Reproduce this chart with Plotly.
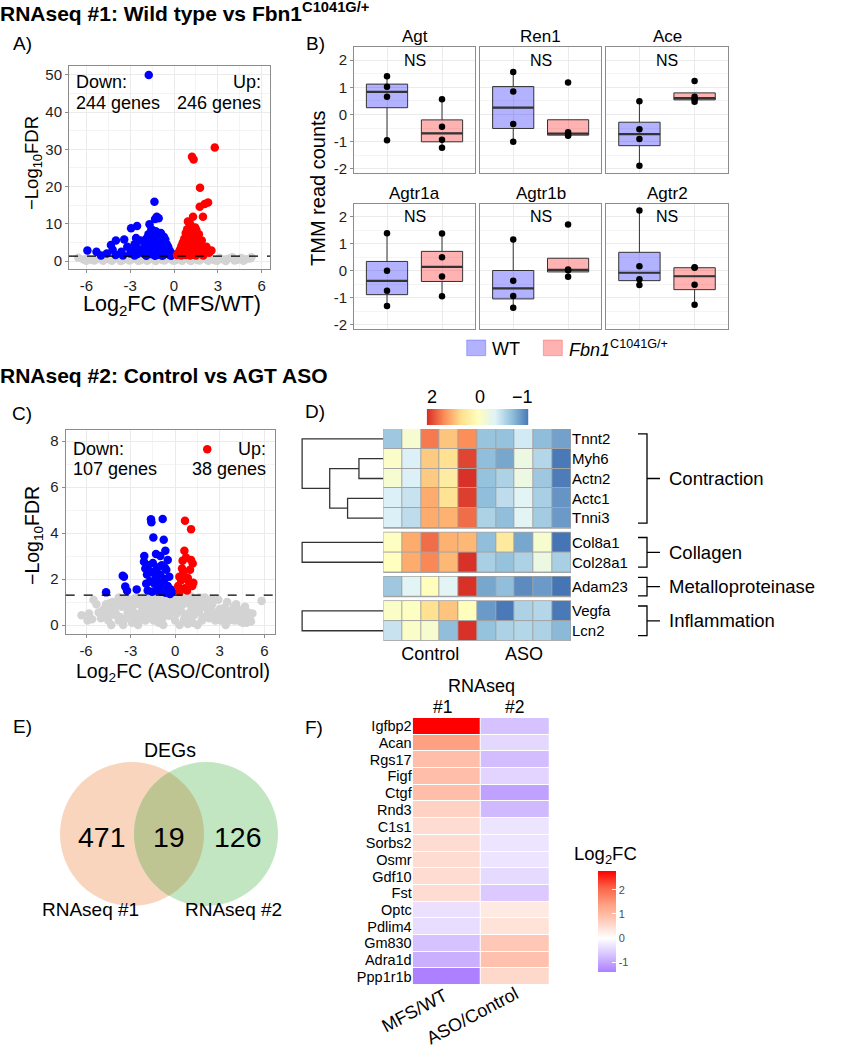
import numpy as np
import plotly.graph_objects as go

W, H = 844, 1050
FONT = "Liberation Sans, Arial, sans-serif"


def fx(p):
    return p / W


def fy(p):
    return 1 - p / H


# ======================= DATA =======================
# ---- Panel A : volcano RNAseq #1 (MFS/WT)
a_grey_fc = [-6.55, -6.2, -5.9, -5.6, -5.3, -5.0, -4.7, -4.4, -4.1, -3.8, -3.5, -3.2, -2.9, -2.6, -2.3, -2.0,
             -1.7, -1.4, -1.1, -0.8, -0.5, -0.2, 0.1, 0.4, 0.7, 1.0, 1.3, 1.6, 1.9, 2.2, 2.5, 2.8, 3.1, 3.4,
             3.7, 4.0, 4.3, 4.6, 4.9, 5.2,
             -6.0, -5.45, -4.85, -4.25, -3.65, -3.05, -2.45, -1.85, -1.25, -0.65, -0.05, 0.55, 1.15, 1.75,
             2.35, 2.95, 3.55, 4.15, 4.75, 5.3]
a_grey_fdr = [0.9, 0.4, 0.7, 0.3, 0.8, 0.5, 0.9, 0.4, 0.6, 1.0, 0.3, 0.7, 0.5, 0.9, 0.2, 0.8, 0.4, 1.0, 0.6,
              0.3, 0.9, 0.5, 0.2, 0.7, 1.1, 0.4, 0.8, 0.3, 0.9, 0.5, 0.7, 0.2, 0.9, 0.4, 0.6, 1.0, 0.3, 0.8,
              0.5, 0.7,
              0.1, 0.15, 0.05, 0.1, 0.0, 0.15, 0.05, 0.1, 0.0, 0.12, 0.05, 0.1, 0.0, 0.15, 0.05, 0.1, 0.0,
              0.12, 0.05, 1.0]
a_down_fc = [-1.73, -1.34, -1.18, -1.3, -1.05, -2.53, -2.94, -1.68, -1.55, -1.25,
             -0.9, -1.45, -0.7, -1.1, -1.9, -2.3, -3.41, -3.98, -4.32, -4.2,
             -5.93, -5.31, -3.2, -2.7, -2.0, -1.6, -1.2, -0.8, -0.5, -2.5,
             -1.8, -1.4, -1.0, -0.6, -0.3, -3.6, -2.9, -2.2, -1.7, -1.2,
             -0.9, -0.5, -4.6, -3.0, -2.5, -2.0, -1.5, -1.1, -0.7, -0.3,
             -3.5, -2.7, -1.9, -1.3, -0.8, -0.2, -4.0, -5.0, -1.55, -0.95,
             -1.35, -1.0, -0.6, -1.5, -0.4, -0.15, -2.6, -2.1, -1.75]
a_down_fdr = [50.0, 15.9, 11.9, 11.3, 11.5, 9.4, 8.8, 9.9, 8.5, 8.0,
              7.5, 7.0, 6.5, 6.2, 6.0, 5.5, 5.8, 5.5, 4.3, 3.0,
              2.8, 2.5, 3.8, 4.5, 4.8, 5.0, 4.9, 5.0, 4.5, 3.5,
              3.6, 3.8, 3.9, 3.5, 2.8, 2.5, 2.7, 2.6, 2.5, 2.7,
              2.4, 2.2, 2.0, 2.0, 1.9, 1.8, 1.8, 1.7, 1.7, 1.6,
              1.5, 1.5, 1.4, 1.4, 1.4, 1.4, 1.6, 1.5, 4.2, 3.2,
              6.0, 6.8, 5.8, 6.5, 3.8, 2.0, 6.2, 3.2, 7.2]
a_up_fc = [2.79, 1.23, 1.34, 1.78, 2.33, 2.1, 1.76, 1.98, 1.3, 0.95,
           1.53, 1.64, 2.22, 2.56, 1.1, 1.45, 0.9, 1.2, 0.8, 1.0,
           1.7, 0.7, 1.3, 1.9, 0.6, 1.1, 1.5, 0.5, 0.9, 1.3,
           1.7, 2.0, 0.4, 0.75, 1.2, 1.6, 2.2, 0.3, 0.6, 1.0,
           1.4, 1.8, 2.4, 0.2, 0.5, 0.8, 1.1, 1.5, 2.0, 0.95,
           1.25, 0.65]
a_up_fdr = [30.5, 28.0, 27.3, 19.7, 15.7, 15.3, 14.6, 11.9, 11.9, 10.6,
            8.3, 6.1, 3.8, 2.8, 10.0, 9.0, 8.5, 8.0, 7.5, 7.0,
            7.2, 6.0, 6.2, 5.5, 5.0, 5.0, 4.8, 4.0, 4.2, 4.0,
            3.8, 3.5, 3.0, 3.2, 3.0, 2.8, 2.8, 2.2, 2.3, 2.1,
            2.2, 2.0, 2.2, 1.6, 1.5, 1.6, 1.5, 1.5, 1.5, 5.8,
            9.0, 4.6]
a_counts = ["244 genes", "246 genes"]

# ---- Panel C : volcano RNAseq #2 (ASO/Control)
c_grey_fc = [-6.3, -5.8, -5.5, -5.3, -5.0, -4.8, -4.5, -4.2, -4.0, -3.8, -3.6, -3.3, -3.1, -2.9, -2.7,
             -2.4, -2.2, -2.0, -1.8, -1.5, -1.3, -1.1, -0.9, -0.6, -0.4, -0.2, 0.0, 0.2, 0.4, 0.6,
             0.8, 1.0, 1.2, 1.4, 1.6, 1.8, 2.0, 2.2, 2.5, 2.7, 3.0, 3.2, 3.5, 3.7, 4.0,
             4.2, 4.5, 4.7, 5.0, 5.2, 5.82, -5.9, -4.3, -2.5, -0.8, 1.5, 3.4, 4.8, -3.8, -1.0, 0.9,
             2.9, 4.1, -1.6, 0.3, 2.3, -3.5, -2.0, 0.5, 1.9, 3.9, -4.7,
             -4.6, -4.1, -3.7, -3.2, -2.8, -2.3, -1.9, -1.4, -1.2, -0.7, -0.3, 0.1, 0.7, 1.1, 1.7,
             2.1, 2.6, 3.1, 3.6, 4.4, -4.9, -4.4, -3.9, -3.4, -3.0, -2.6, -2.1, -1.7, -1.2, -0.5,
             0.25, 0.75, 1.3, 1.85, 2.4, 2.8, 3.3, 3.8, 4.3, 4.9,
             -2.75, -2.35, -1.65, -1.35, -0.95, -0.45, -0.15, 0.35, 0.65, 1.05, 1.45, 1.95, 2.45,
             -3.15, -1.05, 0.15, 0.85, -4.35, 3.05, 4.55,
             -5.6, -5.15, -4.65, -4.15, -3.55, -3.25, -2.85, -2.55, -2.15, -1.75, -1.45, -1.15, -0.85,
             -0.55, -0.25, 0.05, 0.45, 0.95, 1.25, 1.65, 2.05, 2.55, 2.95, 3.45, 3.95, 4.65, 5.1,
             -4.0, -2.4, -0.6, 1.0, 2.7, 3.6, -1.9, 0.6, -3.0]
c_grey_fdr = [0.43, 0.5, 1.1, 0.9, 0.3, 0.7, 0.2, 1.0, 0.5, 0.2, 0.8, 1.2, 0.4, 0.1, 0.9,
              0.5, 1.2, 0.2, 0.8, 1.2, 0.5, 0.1, 0.9, 1.25, 0.4, 0.9, 0.2, 1.1, 0.6, 1.25,
              0.3, 0.9, 0.1, 1.1, 0.6, 0.2, 1.2, 0.5, 0.9, 0.2, 0.7, 0.3, 1.0, 0.6, 0.2,
              0.7, 0.4, 0.8, 0.3, 0.5, 1.05, 0.2, 0.0, 0.0, 0.0, 0.0, 0.0, 0.1, 1.2, 0.6, 0.5,
              1.1, 0.9, 0.3, 0.0, 0.3, 0.0, 0.6, 0.9, 0.8, 0.5, 0.5,
              0.35, 0.75, 0.35, 0.55, 0.35, 0.85, 0.4, 0.75, 0.95, 0.45, 0.7, 0.5, 0.4, 0.65, 0.95,
              0.75, 0.5, 0.45, 0.35, 0.15, 0.6, 0.95, 0.85, 0.25, 0.8, 0.25, 0.35, 0.5, 0.3, 0.8,
              0.75, 0.15, 0.45, 0.35, 0.7, 0.55, 0.75, 0.25, 0.4, 0.55,
              1.15, 1.0, 1.05, 1.2, 1.15, 1.1, 1.25, 1.2, 0.95, 1.25, 0.85, 1.0, 1.1,
              0.65, 0.15, 0.75, 0.05, 0.7, 0.2, 0.1,
              0.25, 0.55, 0.9, 0.45, 1.05, 0.85, 0.6, 1.2, 0.65, 1.25, 0.2, 0.95, 0.3,
              0.7, 1.15, 0.95, 1.25, 1.15, 0.55, 1.2, 0.35, 1.1, 0.4, 0.65, 0.8, 0.55, 0.15,
              0.8, 0.2, 0.9, 0.25, 0.45, 0.2, 1.05, 0.25, 1.05]
c_down_fc = [-1.63, -1.6, -0.84, -1.47, -0.77, -0.66, -1.29, -2.08, -2.1, -0.5,
             -2.01, -3.53, -3.45, -3.36, -3.24, -2.59, -4.65, -1.8, -1.5, -1.2,
             -0.9, -0.6, -1.9, -1.6, -1.3, -1.0, -0.7, -0.4, -1.95, -1.7,
             -1.4, -1.1, -0.8, -0.5, -0.3, -1.85, -1.55, -1.25, -0.95, -0.65,
             -0.35, -0.2, -1.0, -0.7, -1.35, -1.05]
c_down_fdr = [4.6, 4.47, 4.61, 3.81, 3.71, 3.23, 3.09, 3.0, 2.75, 2.83,
              2.46, 2.14, 2.1, 1.67, 1.49, 1.55, 1.42, 2.6, 2.7, 2.5,
              2.6, 2.4, 2.2, 2.3, 2.1, 2.2, 2.0, 2.1, 1.8, 1.9,
              1.8, 1.85, 1.75, 1.7, 1.55, 1.5, 1.45, 1.5, 1.45, 1.4,
              1.35, 1.45, 3.0, 2.5, 2.35, 1.6]
c_up_fc = [0.66, 1.07, 0.62, 0.73, 1.07, 1.18, 0.5, 0.46, 1.0, 0.28, 0.85, 1.22, 1.15, 0.2, 0.65,
           0.3, 0.8, 2.16, 0.55, 0.9, 0.4]
c_up_fdr = [4.53, 4.17, 3.23, 2.94, 2.83, 2.68, 2.8, 2.46, 2.4, 2.1, 2.05, 1.84, 1.7, 1.7, 1.6,
            1.45, 1.5, 7.64, 2.25, 1.9, 1.95]
c_counts = ["107 genes", "38 genes"]
fdr_cutoff = 0.05

# ---- Panel B : TMM read counts
b_genes = ["Agt", "Ren1", "Ace", "Agtr1a", "Agtr1b", "Agtr2"]
b_wt = [[1.41, 1.02, 0.65, -0.95], [1.56, 0.85, -0.35, -1.0], [0.49, -0.54, -0.9, -1.88],
        [1.39, 0.0, -0.74, -1.30], [1.16, -0.37, -0.93, -1.36], [2.23, 0.17, -0.31, -0.52]]
b_fbn = [[0.56, -0.45, -0.93, -1.22], [1.18, -0.65, -0.75, -0.78], [1.23, 0.65, 0.56, 0.47],
         [1.38, 0.5, -0.21, -0.94], [1.71, 0.05, 0.02, -0.22], [0.13, 0.11, -0.51, -1.25]]
b_sig = ["NS", "NS", "NS", "NS", "NS", "NS"]
b_ticks = [-2, -1, 0, 1, 2]

# ---- Panel D : heatmap of z-scores
d_genes = ["Tnnt2", "Myh6", "Actn2", "Actc1", "Tnni3", "Col8a1", "Col28a1", "Adam23", "Vegfa", "Lcn2"]
d_groups = ["Contraction", "Collagen", "Metalloproteinase", "Inflammation"]
d_group_sizes = [5, 2, 1, 2]
d_samples = ["Control"] * 5 + ["ASO"] * 5
d_values = [
    [-0.65, 0.0, 1.65, 1.05, 1.5, -0.68, -0.7, -0.4, -0.73, -0.88],
    [0.05, -0.35, 1.0, 0.8, 2.05, -0.72, -0.85, -0.15, -0.55, -1.1],
    [0.0, -0.35, 1.0, 0.55, 2.2, -0.7, -0.58, -0.15, -0.65, -1.08],
    [-0.35, -0.45, 1.25, 0.75, 2.1, -0.72, -0.5, -0.3, -0.6, -0.95],
    [-0.35, -0.5, 1.25, 1.2, 1.75, -0.58, -0.72, -0.3, -0.63, -0.92],
    [0.1, 1.25, 1.75, 1.2, 1.15, -0.72, 0.6, -0.85, 0.0, -1.12],
    [0.12, 1.25, 1.55, 1.15, 2.2, -0.6, -0.7, -0.58, -0.15, -0.6],
    [-0.65, -0.3, 0.15, -0.3, 2.2, -0.85, -0.72, -1.0, -0.92, -1.12],
    [0.05, 0.1, 0.8, 1.05, 0.15, -0.92, -1.1, -0.58, -0.55, -1.1],
    [-0.45, 0.05, 0.0, -0.72, 2.2, -0.7, -0.58, -0.55, -0.58, -0.75],
]
# dendrogram merges: (left member, right member, height); members are gene names or merge ids
d_merges = [("Myh6", "Actn2", 0.30), ("Actc1", "Tnni3", 0.44), (0, 1, 0.66), ("Tnnt2", 2, 1.0),
            ("Col8a1", "Col28a1", 1.0), ("Vegfa", "Lcn2", 1.0)]
d_legend_stops = [2.21, 1.51, 0.82, 0.125, -0.33, -0.72, -1.12]
d_legend_labels = ["2", "0", "\u22121"]

# ---- Panel E : Venn
e_counts = [471, 19, 126]
e_sets = ["RNAseq #1", "RNAseq #2"]

# ---- Panel F : log2FC heatmap
f_genes = ["Igfbp2", "Acan", "Rgs17", "Figf", "Ctgf", "Rnd3", "C1s1", "Sorbs2", "Osmr", "Gdf10",
           "Fst", "Optc", "Pdlim4", "Gm830", "Adra1d", "Ppp1r1b"]
f_contrasts = ["MFS/WT", "ASO/Control"]
f_rnaseq1 = [2.8, 1.4, 0.95, 0.95, 0.95, 0.65, 0.5, 0.5, 0.5, 0.5, 0.5, -0.35, -0.4, -0.7, -0.9, -1.4]
f_rnaseq2 = [-0.7, -0.45, -0.75, -0.5, -1.05, -0.8, -0.3, -0.3, -0.3, -0.42, -0.62, 0.3, 0.42, 0.8,
             0.9, 0.55]
f_ticks = [-1, 0, 1, 2]

# ======================= FIGURE =======================
fig = go.Figure()
annotations = []
shapes = []
layout = {}

GRID = "#ebebeb"
MINOR = "#f4f4f4"
BORDER = "#8c8c8c"
TICKC = "#1e1e1e"


def ann(text, x, y, size, xanchor="center", yanchor="middle", angle=0, color="black", xref="paper",
        yref="paper", raw=False):
    return dict(text=text, x=x if raw else fx(x), y=y if raw else fy(y), xref=xref, yref=yref,
                showarrow=False, font=dict(size=size, family=FONT, color=color),
                xanchor=xanchor, yanchor=yanchor, textangle=angle)


# headings and panel letters
annotations.append(ann("<b>RNAseq #1: Wild type vs Fbn1<sup>C1041G/+</sup></b>", -2, 12, 21, xanchor="left"))
annotations.append(ann("<b>RNAseq #2: Control vs AGT ASO</b>", -2, 376, 21, xanchor="left"))
for lab, x, y in [("A)", 22, 44), ("B)", 315, 44), ("C)", 22, 413), ("D)", 315, 411), ("E)", 22, 726),
                  ("F)", 314, 727)]:
    annotations.append(ann(lab, x, y, 19))


# ---------------- volcano helper ----------------
def volcano(n, xdom, ydom, xr, yr, ymajor, yminor, grey, down, up, counts, xtitle, ytitle_xy, xtitle_y,
            text_y, xtitle_size, ytitle_size):
    xs = "x" if n == 1 else f"x{n}"
    ys = "y" if n == 1 else f"y{n}"
    for (xv, yv), col in [(grey, "#d3d3d3"), (down, "#0000ff"), (up, "#ff0000")]:
        fig.add_trace(go.Scatter(x=xv, y=yv, mode="markers", xaxis=xs, yaxis=ys,
                                 marker=dict(size=8.5, color=col, line=dict(width=0)),
                                 hoverinfo="skip"))
    key = "" if n == 1 else str(n)
    layout["xaxis" + key] = dict(
        domain=[fx(xdom[0]), fx(xdom[1])], range=xr, anchor=ys, automargin=False,
        tickvals=[-6, -3, 0, 3, 6], ticktext=["-6", "-3", "0", "3", "6"],
        showgrid=True, gridcolor=GRID, gridwidth=1,
        minor=dict(tickvals=[-4.5, -1.5, 1.5, 4.5], showgrid=True, gridcolor=MINOR, gridwidth=1, ticks=""),
        zeroline=False, showline=True, linecolor=BORDER, linewidth=1, mirror=True,
        ticks="outside", ticklen=3, tickcolor=BORDER, tickfont=dict(size=15, color=TICKC, family=FONT))
    layout["yaxis" + key] = dict(
        domain=[fy(ydom[1]), fy(ydom[0])], range=yr, anchor=xs, automargin=False,
        tickvals=ymajor, ticktext=[str(v) for v in ymajor],
        showgrid=True, gridcolor=GRID, gridwidth=1,
        minor=dict(tickvals=yminor, showgrid=True, gridcolor=MINOR, gridwidth=1, ticks=""),
        zeroline=False, showline=True, linecolor=BORDER, linewidth=1, mirror=True,
        ticks="outside", ticklen=3, tickcolor=BORDER, tickfont=dict(size=15, color=TICKC, family=FONT))
    cut = -np.log10(fdr_cutoff)
    shapes.append(dict(type="line", xref=f"{xs} domain", yref=ys, x0=0, x1=1, y0=cut, y1=cut,
                       line=dict(color="black", width=1.2, dash="dash"), layer="above"))
    annotations.append(ann("Down:", xdom[0] + 5, text_y[0], 18, xanchor="left"))
    annotations.append(ann(counts[0], xdom[0] + 5, text_y[1], 18, xanchor="left"))
    annotations.append(ann("Up:", xdom[1] - 7, text_y[0], 18, xanchor="right"))
    annotations.append(ann(counts[1], xdom[1] - 7, text_y[1], 18, xanchor="right"))
    annotations.append(ann(xtitle, (xdom[0] + xdom[1]) / 2 + 2, xtitle_y, xtitle_size))
    annotations.append(ann("\u2212Log<sub>10</sub>FDR", ytitle_xy[0], ytitle_xy[1], ytitle_size, angle=-90))


volcano(1, (69, 270), (66, 269), [-7.19, 6.57], [-2.15, 52.4], [0, 10, 20, 30, 40, 50],
        [5, 15, 25, 35, 45], (a_grey_fc, a_grey_fdr), (a_down_fc, a_down_fdr), (a_up_fc, a_up_fdr),
        a_counts, "Log<sub>2</sub>FC (MFS/WT)", (33, 163), 306, (82, 103), 21.5, 18.5)
volcano(8, (65.7, 275.3), (430, 634), [-7.37, 6.74], [-0.39, 8.48], [0, 2, 4, 6, 8], [1, 3, 5, 7],
        (c_grey_fc, c_grey_fdr), (c_down_fc, c_down_fdr), (c_up_fc, c_up_fdr),
        c_counts, "Log<sub>2</sub>FC (ASO/Control)", (33, 536), 672, (449, 469), 19.5, 19.5)

# ---------------- Panel B : box plots ----------------
col_px = [(354, 475), (480.3, 601), (606.3, 727.7)]
row_px = [(47.3, 173.3), (204, 329.3)]
box_fill = ["rgba(0,0,255,0.3)", "rgba(255,0,0,0.3)"]


def box_stats(v):
    v = np.sort(np.asarray(v, dtype=float))
    q1, med, q3 = np.percentile(v, [25, 50, 75])
    iqr = q3 - q1
    lo = v[v >= q1 - 1.5 * iqr].min()
    hi = v[v <= q3 + 1.5 * iqr].max()
    return q1, med, q3, lo, hi


for i, gene in enumerate(b_genes):
    r, c = divmod(i, 3)
    n = i + 2
    xs, ys = f"x{n}", f"y{n}"
    for pos, vals, fill in [(1, b_wt[i], box_fill[0]), (2, b_fbn[i], box_fill[1])]:
        q1, med, q3, lo, hi = box_stats(vals)
        fig.add_trace(go.Box(x=[pos], q1=[q1], median=[med], q3=[q3], lowerfence=[lo], upperfence=[hi],
                             width=0.75, whiskerwidth=0, fillcolor=fill, boxpoints=False,
                             line=dict(color="#333333", width=1), xaxis=xs, yaxis=ys, hoverinfo="skip"))
        fig.add_trace(go.Scatter(x=[pos - 0.375, pos + 0.375], y=[med, med], mode="lines",
                                 line=dict(color="#333333", width=2.2), xaxis=xs, yaxis=ys,
                                 hoverinfo="skip"))
        fig.add_trace(go.Scatter(x=[pos] * len(vals), y=vals, mode="markers",
                                 marker=dict(size=6.5, color="black"), xaxis=xs, yaxis=ys,
                                 hoverinfo="skip"))
    layout[f"xaxis{n}"] = dict(domain=[fx(col_px[c][0]), fx(col_px[c][1])], range=[0.4, 2.6], anchor=ys,
                               automargin=False,
                               tickvals=[1, 2], showticklabels=False, showgrid=True, gridcolor=GRID,
                               zeroline=False, showline=True, mirror=True, linecolor=BORDER, ticks="")
    layout[f"yaxis{n}"] = dict(domain=[fy(row_px[r][1]), fy(row_px[r][0])], range=[-2.16, 2.47], anchor=xs,
                               automargin=False,
                               tickvals=b_ticks, ticktext=[str(t) for t in b_ticks],
                               showticklabels=(c == 0), ticks="outside" if c == 0 else "", ticklen=3,
                               tickcolor=BORDER, tickfont=dict(size=15, color=TICKC, family=FONT),
                               showgrid=True, gridcolor=GRID,
                               minor=dict(tickvals=[-1.5, -0.5, 0.5, 1.5], showgrid=True, gridcolor=MINOR,
                                          ticks=""),
                               zeroline=False, showline=True, mirror=True, linecolor=BORDER)
    annotations.append(ann(gene, (col_px[c][0] + col_px[c][1]) / 2, row_px[r][0] - 11, 17))
    annotations.append(ann(b_sig[i], 1.5, 2.0, 16, xref=xs, yref=ys, raw=True))

annotations.append(ann("TMM read counts", 318, 188, 20, angle=-90))
# legend of panel B
shapes.append(dict(type="rect", xref="paper", yref="paper", x0=fx(466.7), x1=fx(485.7), y0=fy(355.7),
                   y1=fy(340), fillcolor=box_fill[0], line=dict(color="rgba(0,0,255,0.25)", width=1)))
shapes.append(dict(type="rect", xref="paper", yref="paper", x0=fx(543.3), x1=fx(562.3), y0=fy(355.7),
                   y1=fy(340), fillcolor=box_fill[1], line=dict(color="rgba(255,0,0,0.25)", width=1)))
annotations.append(ann("WT", 490.5, 348.5, 18, xanchor="left"))
annotations.append(ann("<i>Fbn1</i><sup>C1041G/+</sup>", 566.5, 348.5, 18, xanchor="left"))

# ---------------- Panel D : heatmap ----------------
d_colors = ["#d73027", "#fc8d59", "#fee090", "#ffffbf", "#e0f3f8", "#91bfdb", "#4575b4"]
d_zmin, d_zmax = min(d_legend_stops), max(d_legend_stops)
d_scale = sorted([[(v - d_zmin) / (d_zmax - d_zmin), col] for v, col in zip(d_legend_stops, d_colors)])
ROW_GAP = 0.23
block_starts = []
s = 0.0
for size in d_group_sizes:
    block_starts.append(s)
    s += size + ROW_GAP
d_total = s - ROW_GAP
row_center = []
for start, size in zip(block_starts, d_group_sizes):
    row_center += [start + 0.5 + k for k in range(size)]

gi = 0
for start, size, grp in zip(block_starts, d_group_sizes, d_groups):
    fig.add_trace(go.Heatmap(z=d_values[gi:gi + size], x0=0, dx=1, y0=start + 0.5, dy=1,
                             zmin=d_zmin, zmax=d_zmax, colorscale=d_scale, showscale=False,
                             xgap=1, ygap=1, xaxis="x9", yaxis="y9", hoverinfo="skip"))
    shapes.append(dict(type="rect", xref="x9", yref="y9", x0=-0.5, x1=9.5, y0=start, y1=start + size,
                       fillcolor="#a3a3a3", line=dict(color="#a3a3a3", width=1.5), layer="below"))
    inset = 0.25 if size > 1 else 0.03
    yt, yb = start + inset, start + size - inset
    ym = start + size / 2
    x0, x1, x2 = fx(638), fx(647), fx(660)
    shapes.append(dict(type="path", xref="paper", yref="y9",
                       path=f"M {x0},{yt} L {x1},{yt} L {x1},{yb} L {x0},{yb} M {x1},{ym} L {x2},{ym}",
                       line=dict(color="black", width=1.3)))
    annotations.append(ann(grp, fx(666.5), ym, 18.5, xanchor="left", xref="paper", yref="y9", raw=True))
    gi += size

ctrl_pos = float(np.mean([k for k, sname in enumerate(d_samples) if sname == "Control"]))
aso_pos = float(np.mean([k for k, sname in enumerate(d_samples) if sname == "ASO"]))
layout["xaxis9"] = dict(domain=[fx(383.3), fx(571)], range=[-0.5, 9.5], anchor="y9", automargin=False,
                        tickvals=[ctrl_pos, aso_pos], ticktext=["Control", "ASO"],
                        tickfont=dict(size=18, color="black", family=FONT), ticks="",
                        showgrid=False, zeroline=False, showline=False)
layout["yaxis9"] = dict(domain=[fy(429 + d_total * 19.8), fy(429)], range=[d_total, 0], anchor="x9",
                        automargin=False,
                        side="right", tickvals=row_center, ticktext=d_genes, ticks="",
                        tickfont=dict(size=15, color="black", family=FONT),
                        showgrid=False, zeroline=False, showline=False)

# dendrogram
gene_y = dict(zip(d_genes, row_center))
nodes = []
dx_, dy_ = [], []
for a, b, h in d_merges:
    pa = (gene_y[a], 0.0) if isinstance(a, str) else nodes[a]
    pb = (gene_y[b], 0.0) if isinstance(b, str) else nodes[b]
    dx_ += [pa[1], h, h, pb[1], None]
    dy_ += [pa[0], pa[0], pb[0], pb[0], None]
    nodes.append(((pa[0] + pb[0]) / 2, h))
fig.add_trace(go.Scatter(x=dx_, y=dy_, mode="lines", line=dict(color="#333333", width=1.3),
                         xaxis="x10", yaxis="y9", hoverinfo="skip"))
layout["xaxis10"] = dict(domain=[fx(300.5), fx(383.3)], range=[1.02, 0], anchor="y9", visible=False,
                         automargin=False)

# colour legend of D
fig.add_trace(go.Heatmap(z=[d_legend_stops], x=list(range(len(d_legend_stops))), y=[0],
                         zmin=d_zmin, zmax=d_zmax, colorscale=d_scale, showscale=False, zsmooth="best",
                         xaxis="x11", yaxis="y11", hoverinfo="skip"))
layout["xaxis11"] = dict(domain=[fx(426.7), fx(528.3)], range=[0, len(d_legend_stops) - 1], anchor="y11",
                         visible=False, automargin=False)
layout["yaxis11"] = dict(domain=[fy(425), fy(409)], range=[-0.5, 0.5], anchor="x11", visible=False,
                         automargin=False)
for lab, x in zip(d_legend_labels, [431.7, 480, 522.3]):
    annotations.append(ann(lab, x, 397, 18))

# ---------------- Panel E : Venn ----------------
cx1, cx2, cyv, rv = 132, 206, 834, 72
shapes.append(dict(type="circle", xref="paper", yref="paper", x0=fx(cx1 - rv), x1=fx(cx1 + rv),
                   y0=fy(cyv + rv), y1=fy(cyv - rv), fillcolor="#f9d5be", line=dict(width=0)))
shapes.append(dict(type="circle", xref="paper", yref="paper", x0=fx(cx2 - rv), x1=fx(cx2 + rv),
                   y0=fy(cyv + rv), y1=fy(cyv - rv), fillcolor="#c1e6c1", line=dict(width=0)))
theta = np.arccos((cx2 - cx1) / 2 / rv)
t1 = np.linspace(-theta, theta, 40)
t2 = np.linspace(np.pi - theta, np.pi + theta, 40)
lx = np.concatenate([cx1 + rv * np.cos(t1), cx2 + rv * np.cos(t2)])
ly = np.concatenate([cyv + rv * np.sin(t1), cyv + rv * np.sin(t2)])
lens = "M " + " L ".join(f"{fx(a):.5f},{fy(b):.5f}" for a, b in zip(lx, ly)) + " Z"
shapes.append(dict(type="path", xref="paper", yref="paper", path=lens, fillcolor="#bec592",
                   line=dict(width=0)))
annotations.append(ann("DEGs", 170, 750, 19.5))
for cnt, x in zip(e_counts, [101.7, 169, 237.7]):
    annotations.append(ann(str(cnt), x, 837, 28.5))
annotations.append(ann(e_sets[0], 90, 909, 19))
annotations.append(ann(e_sets[1], 234, 909, 19))

# ---------------- Panel F : log2FC heatmap ----------------
f_zmin, f_zmax = min(f_rnaseq1 + f_rnaseq2), max(f_rnaseq1 + f_rnaseq2)
f_scale = [[0.0, "rgb(172,128,255)"], [1 / 6, "rgb(214,194,255)"], [1 / 3, "rgb(255,255,255)"],
           [0.5, "rgb(255,206,190)"], [2 / 3, "rgb(255,160,130)"], [5 / 6, "rgb(250,100,72)"],
           [1.0, "rgb(255,0,0)"]]
fig.add_trace(go.Heatmap(z=[[a, b] for a, b in zip(f_rnaseq1, f_rnaseq2)], x=f_contrasts, y=f_genes,
                         zmin=f_zmin, zmax=f_zmax, colorscale=f_scale, xgap=1, ygap=1,
                         xaxis="x12", yaxis="y12", hoverinfo="skip",
                         colorbar=dict(x=fx(598.3), xanchor="left", y=fy(921.2), yanchor="middle",
                                       len=101.4, lenmode="pixels", thickness=18.4,
                                       thicknessmode="pixels", tickvals=f_ticks,
                                       ticktext=[str(t) for t in f_ticks], ticks="inside",
                                       tickcolor="white", ticklen=4,
                                       tickfont=dict(size=11, color="#4d4d4d", family=FONT),
                                       outlinewidth=0, xpad=0, ypad=0)))
layout["xaxis12"] = dict(domain=[fx(412.7), fx(549.3)], anchor="y12", automargin=False,
                         tickmode="array", tickvals=f_contrasts, showticklabels=False, ticks="",
                         showgrid=False, zeroline=False, showline=False)
layout["yaxis12"] = dict(domain=[fy(985), fy(718)], anchor="x12", autorange="reversed", ticks="",
                         automargin=False, tickmode="array", tickvals=f_genes, ticktext=f_genes,
                         tickfont=dict(size=14.5, color="black", family=FONT), showgrid=False,
                         zeroline=False, showline=False)
# rotated contrast labels (end of text at the column centre)
for lab, cx, cy in [(f_contrasts[0], 414, 1011), (f_contrasts[1], 472, 1016)]:
    annotations.append(ann(lab, cx, cy, 18, angle=-28))
annotations.append(ann("RNAseq", 481, 686, 18))
annotations.append(ann("#1", 442, 707, 17.5))
annotations.append(ann("#2", 514.5, 707, 17.5))
annotations.append(ann("Log<sub>2</sub>FC", 605, 855, 18.5))

fig.update_layout(width=W, height=H, margin=dict(l=0, r=0, t=0, b=0, autoexpand=False),
                  paper_bgcolor="white",
                  plot_bgcolor="white", showlegend=False, font=dict(family=FONT, color="black"),
                  annotations=annotations, shapes=shapes, **layout)
# remove the browser's default 8px page margin so the figure sits at the window origin
fig.write_html("out.html", config={"displayModeBar": False},
               post_script="document.body.style.margin='0px';document.body.style.overflow='hidden';")
